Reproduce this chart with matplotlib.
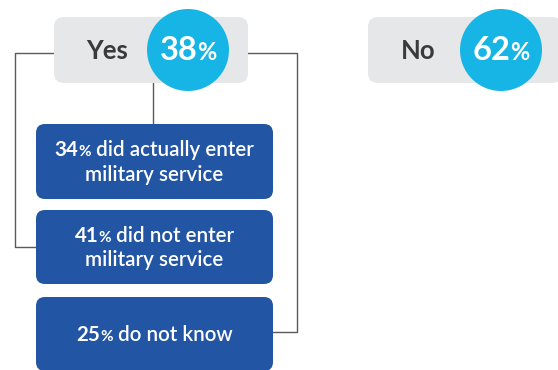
import matplotlib.pyplot as plt
from matplotlib.patches import FancyBboxPatch, Circle
from matplotlib.offsetbox import TextArea, HPacker, VPacker, AnnotationBbox

plt.rcParams['font.family'] = ['Lato', 'DejaVu Sans']

# top-level answers
answers = ["Yes", "No"]
answer_pct = [38, 62]

# breakdown of the "Yes" group
detail_pct = [34, 41, 25]
detail_text = [["did actually enter", "military service"],
               ["did not enter", "military service"],
               ["do not know"]]

grey = "#E6E7E9"
cyan = "#17B5E5"
blue = "#2255A4"
dark = "#3A3A3A"
line_c = "#5A5A5A"

fig = plt.figure(figsize=(5.58, 3.70), dpi=100)
ax = fig.add_axes([0, 0, 1, 1])
ax.set_xlim(0, 558)
ax.set_ylim(370, 0)
ax.set_aspect("equal")
ax.axis("off")


def pct_label(num, rest, size, small, color, num_w="bold", rest_w="semibold"):
    parts = [TextArea(str(num), textprops=dict(size=size, weight=num_w, color=color)),
             TextArea("%", textprops=dict(size=small, weight=num_w, color=color))]
    if rest:
        parts.append(TextArea(" " + rest, textprops=dict(size=size, weight=rest_w, color=color)))
    return HPacker(children=parts, align="baseline", pad=0, sep=0)


# answer pills: grey box + cyan circle
pill_x = [54, 368]
label_x = [107, 418]
circle_x = [188, 501]
for i, ans in enumerate(answers):
    ax.add_patch(FancyBboxPatch((pill_x[i], 17), 194, 66,
                                boxstyle="round,pad=0,rounding_size=10",
                                fc=grey, ec="none", zorder=2))
    ax.text(label_x[i], 51, ans, ha="center", va="center", size=18.5,
            weight="bold", color=dark, zorder=3)
    ax.add_patch(Circle((circle_x[i], 50), 41, fc=cyan, ec="none", zorder=3))
    ab = AnnotationBbox(pct_label(answer_pct[i], None, 23.5, 17, "white"),
                        (circle_x[i], 51), frameon=False, box_alignment=(0.5, 0.5),
                        zorder=4)
    ax.add_artist(ab)

# connector lines from "Yes"
lw = 1.0
ax.plot([54, 15, 15, 36], [53, 53, 247, 247], color=line_c, lw=lw, zorder=1)
ax.plot([248, 297, 297, 273], [53, 53, 332, 332], color=line_c, lw=lw, zorder=1)
ax.plot([153, 153], [83, 124], color=line_c, lw=lw, zorder=1)

# detail boxes
box_top = [124, 210, 297]
box_h = [75, 74, 74]
for i, pct in enumerate(detail_pct):
    ax.add_patch(FancyBboxPatch((36, box_top[i]), 237, box_h[i],
                                boxstyle="round,pad=0,rounding_size=9",
                                fc=blue, ec="none", zorder=2))
    lines = detail_text[i]
    rows = [pct_label(pct, lines[0], 14.8, 11, "white")]
    for extra in lines[1:]:
        rows.append(TextArea(extra, textprops=dict(size=14.8, weight="semibold", color="white")))
    packed = VPacker(children=rows, align="center", pad=0, sep=3)
    ab = AnnotationBbox(packed, (154.5, box_top[i] + box_h[i] / 2 + 1), frameon=False,
                        box_alignment=(0.5, 0.5), zorder=4)
    ax.add_artist(ab)

fig.savefig("out.png", dpi=100)
